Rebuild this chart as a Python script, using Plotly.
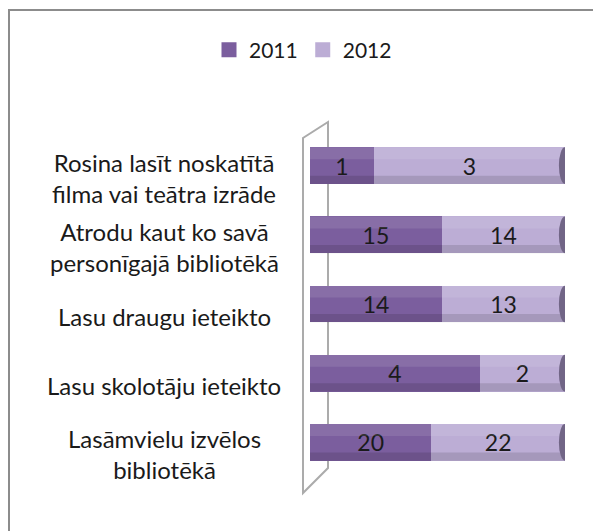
import plotly.graph_objects as go

categories = [
    "Rosina lasīt noskatītā<br>filma vai teātra izrāde",
    "Atrodu kaut ko savā<br>personīgajā bibliotēkā",
    "Lasu draugu ieteikto",
    "Lasu skolotāju ieteikto",
    "Lasāmvielu izvēlos<br>bibliotēkā",
]
series_names = ["2011", "2012"]
values_2011 = [1, 15, 14, 4, 20]
values_2012 = [3, 14, 13, 2, 22]

colors = {"2011": "#7B5E9E", "2012": "#BCADD5"}
cap_color = "#716586"
FONT = "Lato"

OFF = 8  # page body margin
W, H = 593, 523
L, T = 310 - OFF, 131 - OFF
pw, ph = 255, 346
R = W - L - pw
B = H - T - ph

def px(x):
    return (x - OFF - L) / pw

def py(y):
    return (H - B - (y - OFF)) / ph

fig = go.Figure()
for name, vals in zip(series_names, [values_2011, values_2012]):
    fig.add_trace(go.Bar(
        name=name,
        y=list(range(len(categories))),
        x=vals,
        orientation="h",
        marker=dict(color=colors[name], line=dict(width=0)),
        text=[str(v) for v in vals],
        textposition="inside",
        insidetextanchor="middle",
        textfont=dict(family=FONT, size=23, color="#1a1a1a"),
        hoverinfo="skip",
        showlegend=False,
    ))
# legend entries with larger square swatches
for name in series_names:
    fig.add_trace(go.Scatter(
        name=name, x=[None], y=[None], mode="markers",
        marker=dict(symbol="square", size=15, color=colors[name]),
        showlegend=True, hoverinfo="skip",
    ))

shapes = []
# outer frame (top and left visible)
shapes.append(dict(type="line", xref="paper", yref="paper", x0=px(8), x1=px(W + 20),
                   y0=py(10), y1=py(10), line=dict(color="#8c8c8c", width=2)))
shapes.append(dict(type="line", xref="paper", yref="paper", x0=px(9), x1=px(9),
                   y0=py(10), y1=py(H + 20), line=dict(color="#8c8c8c", width=2)))
# 3D wall outline
wall = dict(color="#ababab", width=2)
shapes.append(dict(type="path", xref="paper", yref="paper",
                   path=f"M {px(303)},{py(493)} L {px(303)},{py(138)} L {px(328)},{py(122)} L {px(328)},{py(468)} Z",
                   line=wall, layer="below"))
# shading bands on cylinders (decorative)
half = 0.265
for i in range(len(categories)):
    shapes.append(dict(type="rect", xref="x", yref="y", x0=0, x1=100,
                       y0=i - half, y1=i - half * 0.35, fillcolor="rgba(255,255,255,0.10)",
                       line=dict(width=0), layer="above"))
    shapes.append(dict(type="rect", xref="x", yref="y", x0=0, x1=100,
                       y0=i + half * 0.55, y1=i + half, fillcolor="rgba(0,0,0,0.12)",
                       line=dict(width=0), layer="above"))
    shapes.append(dict(type="circle", xref="x", yref="y", x0=97.6, x1=102.4,
                       y0=i - half, y1=i + half, fillcolor=cap_color,
                       line=dict(width=0), layer="above"))

annotations = []
for i, c in enumerate(categories):
    annotations.append(dict(
        x=px(164), xref="paper", y=i, yref="y", text=c, showarrow=False,
        xanchor="center", yanchor="middle", align="center", yshift=-12,
        font=dict(family=FONT, size=24, color="#1a1a1a"),
    ))

fig.update_layout(
    width=W, height=H,
    margin=dict(l=L, r=R, t=T, b=B, pad=0),
    barmode="stack", barnorm="percent", bargap=0.47,
    paper_bgcolor="white", plot_bgcolor="rgba(0,0,0,0)",
    showlegend=True,
    legend=dict(orientation="h", x=px(303), xanchor="center", y=py(50), yanchor="middle",
                font=dict(family=FONT, size=21, color="#1a1a1a"),
                itemwidth=30, traceorder="normal", bgcolor="rgba(0,0,0,0)"),
    xaxis=dict(range=[0, 100], visible=False, fixedrange=True),
    yaxis=dict(range=[len(categories) - 0.5, -0.5], visible=False, fixedrange=True),
    shapes=shapes,
    annotations=annotations,
    font=dict(family=FONT),
)

fig.write_html("out.html")
